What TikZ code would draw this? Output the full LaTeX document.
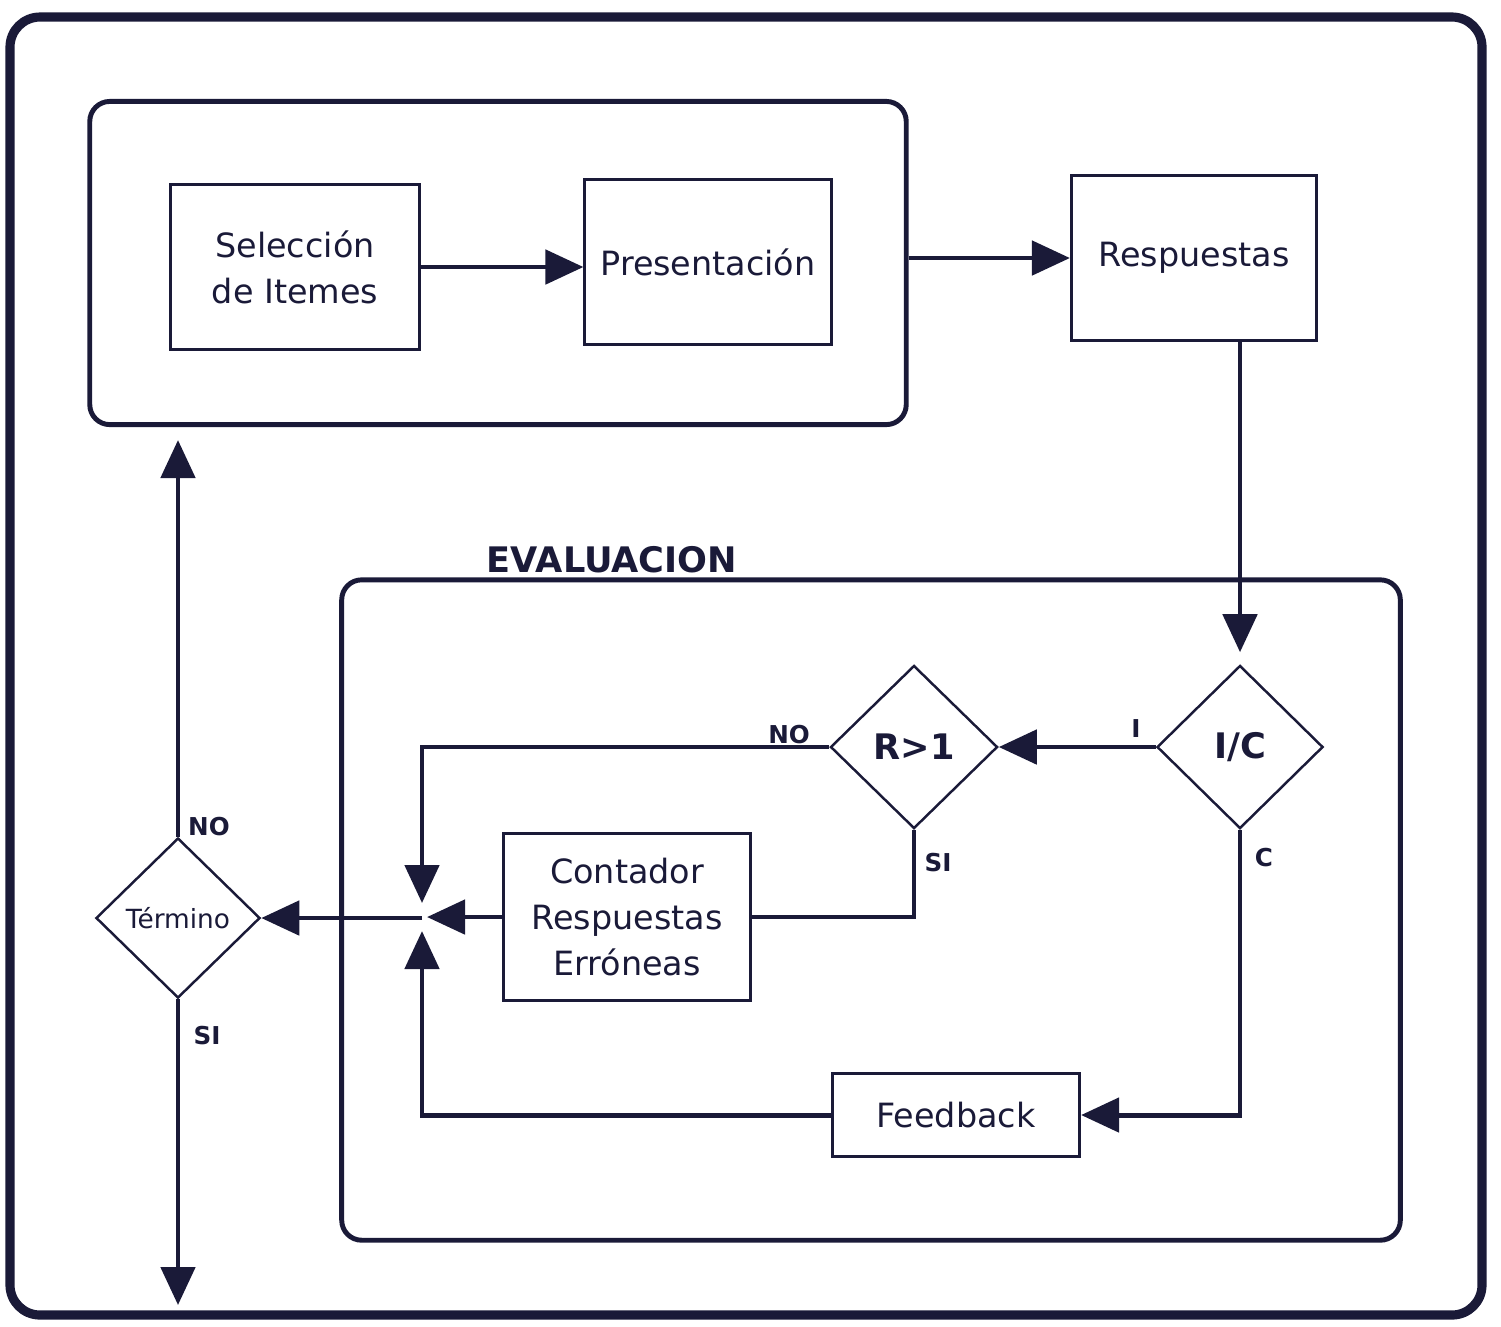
\documentclass[tikz,border=0pt]{standalone}
\usepackage{fontspec}
\setmainfont{DejaVu Sans}
\usetikzlibrary{arrows,arrows.meta,positioning,shapes.geometric}
\definecolor{tinta}{RGB}{26,26,56}
\tikzstyle{box}=[rectangle,draw=tinta,text=tinta,line width=0.85pt,inner sep=0pt,align=center,font=\fontsize{9.5}{13}\selectfont]
\tikzstyle{decision}=[diamond,draw=tinta,text=tinta,line width=0.7pt,inner sep=0pt,font=\bfseries\fontsize{10}{12}\selectfont]
\tikzstyle{bloque}=[rectangle,draw=tinta,line width=1.4pt,rounded corners=2mm,inner sep=0pt]
\tikzstyle{flujo}=[-{Triangle[length=3.8mm,width=3.4mm]},line width=1.4pt,draw=tinta]
\tikzstyle{linea}=[line width=1.4pt,draw=tinta]
\tikzstyle{rotulo}=[text=tinta,font=\bfseries\fontsize{7}{8}\selectfont,inner sep=1pt]

\begin{document}
\begin{tikzpicture}[x=0.01cm,y=-0.01cm]
\useasboundingbox (0,0) rectangle (1501,1326);

\draw [draw=tinta,line width=2.6pt,rounded corners=3mm] (10,17) rectangle (1482,1315);

\node (presblock) [bloque,minimum width=8.16cm,minimum height=3.23cm] at (498,263) {};
\node (sel) [box,minimum width=2.48cm,minimum height=1.65cm] at (295,267) {Selección\\de Itemes};
\node (pres) [box,minimum width=2.46cm,minimum height=1.65cm] at (708,262) {Presentación};
\node (resp) [box,minimum width=2.45cm,minimum height=1.65cm] at (1194,258) {Respuestas};

\draw [flujo] (sel.east) -- (sel.east -| pres.west);
\draw [flujo] (presblock.east |- resp.west) -- (resp.west);

\node (evalblock) [bloque,minimum width=10.58cm,minimum height=6.6cm] at (871,910) {};
\node (evaltitle) [text=tinta,font=\bfseries\fontsize{10}{12}\selectfont] at (612,560) {EVALUACION};

\node (ic) [decision,minimum width=1.66cm,minimum height=1.63cm] at (1240,747) {I/C};
\node (rmayor) [decision,minimum width=1.67cm,minimum height=1.63cm] at (914,747) {R>1};
\node (cont) [box,minimum width=2.47cm,minimum height=1.66cm] at (627,917) {Contador\\Respuestas\\Erróneas};
\node (feed) [box,minimum width=2.47cm,minimum height=0.83cm] at (956,1115) {Feedback};
\node (term) [decision,minimum width=1.64cm,minimum height=1.6cm,font=\fontsize{7.5}{9}\selectfont] at (178,918) {Término};

\coordinate (junta) at (422,918);
\coordinate (volver) at (178,440);
\coordinate (fin) at (178,1305);

\draw [flujo,shorten >=1.2mm] (ic.north |- resp.south) -- (ic.north);
\draw [flujo] (ic.west) -- (rmayor.east);
\draw [flujo] (ic.south) |- (feed.east);
\draw [flujo,shorten >=1.5mm] (rmayor.west) -| (junta);
\draw [linea] (rmayor.south) |- (cont.east);
\draw [flujo,shorten >=0.5mm] (cont.west) -- (cont.west -| junta);
\draw [flujo,shorten >=1.3mm] (feed.west) -| (junta);
\draw [flujo] (junta) -- (term.east);
\draw [flujo] (term.north) -- (volver);
\draw [flujo] (term.south) -- (fin);

\node (lno1) [rotulo] at (789,735) {NO};
\node (lsi1) [rotulo] at (938,863) {SI};
\node (li) [rotulo] at (1136,728) {I};
\node (lc) [rotulo] at (1264,858) {C};
\node (lno2) [rotulo] at (209,827) {NO};
\node (lsi2) [rotulo] at (207,1036) {SI};

\end{tikzpicture}
\end{document}
